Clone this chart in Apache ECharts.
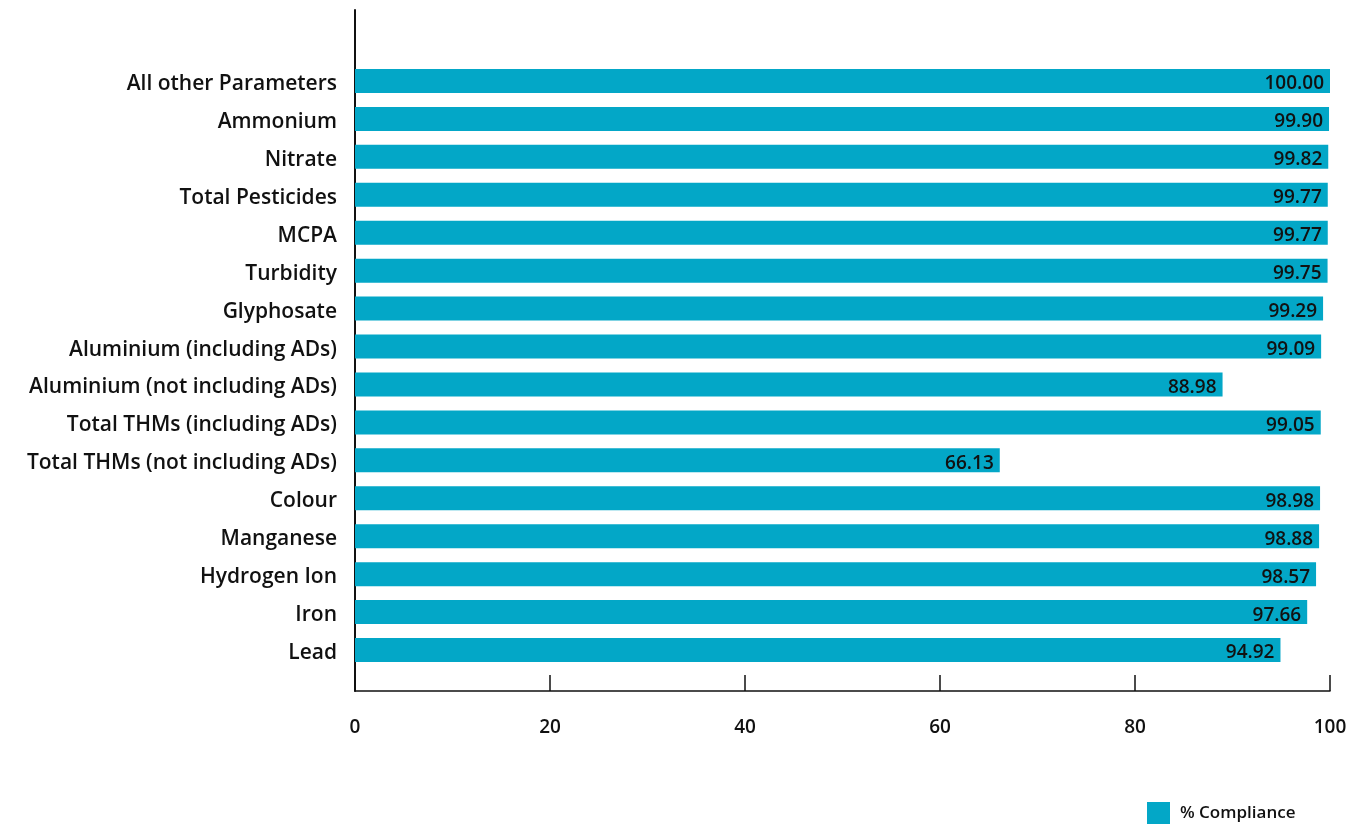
<!DOCTYPE html>
<html>
<head>
<meta charset="utf-8">
<script src="https://cdn.jsdelivr.net/npm/echarts@6/dist/echarts.min.js"></script>
<style>
  html, body { margin: 0; padding: 0; background: #fff; }
  #chart { width: 1366px; height: 827px; }
</style>
</head>
<body>
<div id="chart"></div>
<script>
// Drinking water parameters, listed top to bottom
const categories = [
  'All other Parameters', 'Ammonium', 'Nitrate', 'Total Pesticides', 'MCPA',
  'Turbidity', 'Glyphosate', 'Aluminium (including ADs)',
  'Aluminium (not including ADs)', 'Total THMs (including ADs)',
  'Total THMs (not including ADs)', 'Colour', 'Manganese', 'Hydrogen Ion',
  'Iron', 'Lead'
];
// Percentage of samples in compliance
const compliance = [
  100.00, 99.90, 99.82, 99.77, 99.77, 99.75, 99.29, 99.09,
  88.98, 99.05, 66.13, 98.98, 98.88, 98.57, 97.66, 94.92
];
const xTicks = [0, 20, 40, 60, 80, 100];
const seriesName = '% Compliance';

const FONT = 'Open Sans';
const BAR = '#03a7c7';
const INK = '#111';

const chart = echarts.init(document.getElementById('chart'), null, { renderer: 'canvas' });

chart.setOption({
  backgroundColor: '#fff',
  animation: false,
  textStyle: { fontFamily: FONT },
  legend: {
    data: [seriesName],
    left: 1147, top: 802, padding: 0,
    itemWidth: 23, itemHeight: 22, itemGap: 10,
    icon: 'rect',
    textStyle: { fontFamily: FONT, fontSize: 17, fontWeight: 600, color: INK, padding: [2, 0, 0, 5] }
  },
  grid: [
    // bars
    { left: 355, right: 36, top: 62, height: 607 },
    // frame axes
    { left: 355, right: 36, top: 10, bottom: 136 }
  ],
  xAxis: [
    { gridIndex: 0, type: 'value', min: 0, max: 100, interval: 20, show: false },
    {
      gridIndex: 1, type: 'value', min: xTicks[0], max: xTicks[xTicks.length - 1], interval: 20,
      axisLine: { show: true, lineStyle: { color: INK, width: 1.5 } },
      axisTick: { show: true, inside: true, length: 16, lineStyle: { color: INK, width: 1.5 } },
      axisLabel: { margin: 27, fontFamily: FONT, fontSize: 19, fontWeight: 600, color: INK },
      splitLine: { show: false }
    }
  ],
  yAxis: [
    {
      gridIndex: 0, type: 'category', data: categories, inverse: true,
      axisLine: { show: false }, axisTick: { show: false },
      axisLabel: {
        margin: 18, color: INK,
        formatter: v => '{c|' + v + '}',
        rich: { c: { fontFamily: FONT, fontSize: 21, fontWeight: 600, color: INK, padding: [6, 0, 0, 0] } }
      }
    },
    {
      gridIndex: 1, type: 'value', min: 0, max: 1,
      axisLine: { show: true, lineStyle: { color: INK, width: 2 } },
      axisTick: { show: false }, axisLabel: { show: false }, splitLine: { show: false }
    }
  ],
  series: [{
    name: seriesName,
    type: 'bar',
    xAxisIndex: 0, yAxisIndex: 0,
    data: compliance,
    barWidth: 24,
    itemStyle: { color: BAR },
    label: {
      show: true, position: 'insideRight', distance: 6, offset: [0, 3],
      formatter: p => p.value.toFixed(2),
      fontFamily: FONT, fontSize: 19, fontWeight: 600, color: INK
    }
  }]
});
</script>
</body>
</html>
